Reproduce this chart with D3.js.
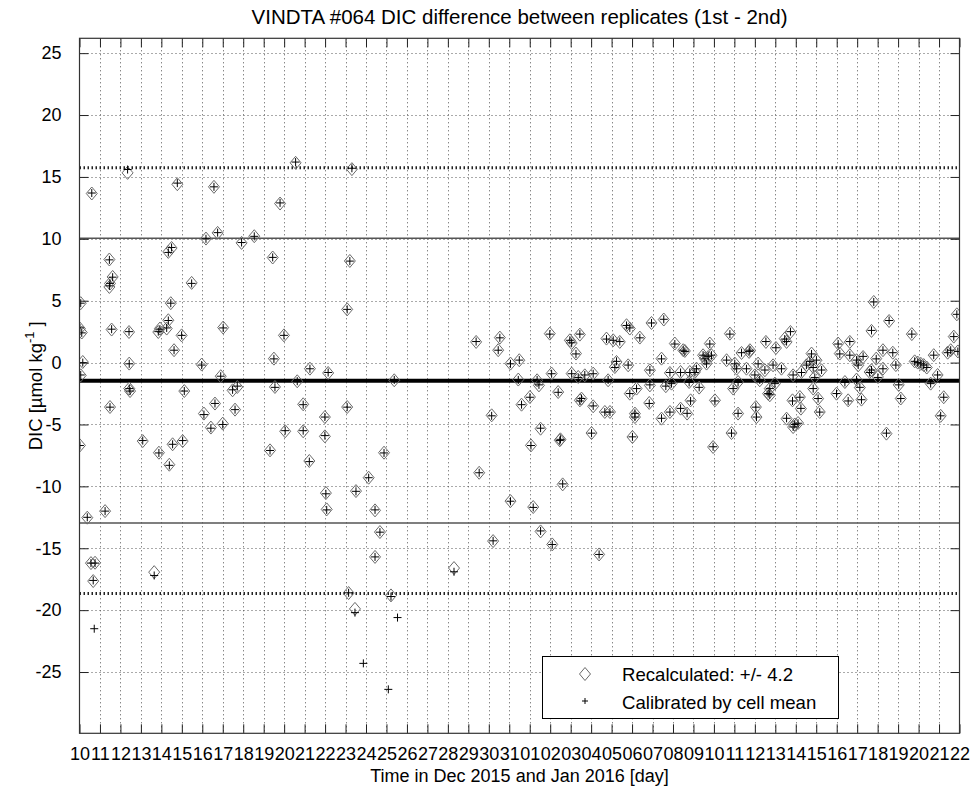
<!DOCTYPE html>
<html>
<head>
<meta charset="utf-8">
<script src="https://cdn.jsdelivr.net/npm/d3@7"></script>
<style>
  body { margin: 0; background: #fff; }
  text { font-family: "Liberation Sans", Arial, Helvetica, sans-serif; fill: #000; }
</style>
</head>
<body>
<svg id="chart" width="974" height="790"></svg>
<script>
// Day ticks: Dec 10 .. Jan 22, counted as days from 1 Dec (Jan 1 = 32)
const tickDays = d3.range(10, 54);
const tickLabels = ["10","11","12","13","14","15","16","17","18","19","20","21","22","23","24","25","26","27","28","29","30","31",
                    "01","02","03","04","05","06","07","08","09","10","11","12","13","14","15","16","17","18","19","20","21","22"];
const yTickValues = [-25, -20, -15, -10, -5, 0, 5, 10, 15, 20, 25];

// Sample time (days from 1 Dec 2015)
const sampleDay = [
  10.06,10.02,10.11,10.16,10.06,10.02,10.38,10.56,10.76,10.67,10.60,10.72,
  11.25,11.49,11.46,11.49,11.62,11.46,11.57,
  12.35,12.42,12.43,12.43,12.47,
  13.09,13.65,13.85,13.93,14.26,14.34,14.46,13.88,14.39,14.55,14.34,14.50,14.62,14.78,14.99,15.04,15.12,15.48,
  15.97,16.08,16.18,16.42,16.57,16.62,16.75,16.90,17.00,17.02,17.48,17.71,17.60,17.92,18.54,
  19.31,19.44,19.50,19.55,19.80,19.99,20.05,20.56,20.64,20.93,20.93,21.23,21.26,21.99,21.99,22.15,22.04,22.08,
  23.08,23.08,23.21,23.31,23.15,23.51,23.46,23.87,24.13,24.44,24.44,24.68,24.88,25.09,25.22,25.38,25.54,
  28.30,29.38,29.53,30.14,30.21,30.46,30.54,
  31.06,31.06,31.44,31.49,31.60,32.01,32.06,32.17,32.36,32.45,32.53,32.53,32.98,33.07,33.10,33.39,33.47,33.50,33.61,
  33.96,34.05,34.05,34.26,34.37,34.45,34.45,34.53,34.69,35.02,35.10,35.10,35.39,35.67,35.75,35.83,35.92,
  36.08,36.16,36.24,36.40,36.73,36.81,36.89,36.89,37.02,37.14,37.14,37.22,37.38,37.84,37.87,37.87,37.95,
  38.44,38.44,38.55,38.65,38.85,38.85,38.93,39.09,39.37,39.37,39.50,39.58,39.69,39.79,39.82,39.86,
  40.07,40.15,40.28,40.47,40.56,40.64,40.72,40.80,40.88,40.96,41.05,41.62,41.78,41.86,41.94,
  42.02,42.11,42.18,42.18,42.35,42.59,42.72,42.76,43.00,43.05,43.08,43.16,43.24,43.49,43.54,43.65,43.73,43.73,43.89,43.98,
  44.03,44.30,44.46,44.55,44.55,44.74,44.84,44.87,44.87,44.95,45.11,45.20,45.25,45.28,45.52,45.69,45.77,45.85,45.85,45.93,
  46.01,46.09,46.17,46.26,46.99,47.07,47.15,47.40,47.56,47.64,47.64,47.97,47.97,48.05,48.13,48.21,48.29,
  48.61,48.70,48.70,48.81,48.93,49.01,49.26,49.26,49.43,49.56,
  49.74,49.89,50.03,50.13,50.67,50.81,50.96,51.11,51.25,51.40,51.59,51.74,51.93,52.08,52.23,52.42,52.57,52.72,52.87,52.92
];

// Recalculated replicate difference (null: outside the plotted range)
const recalculated = [
  4.8,2.75,2.43,0.05,-1.03,-6.69,-12.53,-16.2,-16.17,-17.65,13.66,null,
  -12.0,-3.59,8.33,6.39,6.92,6.11,2.67,
  15.33,2.47,-0.08,-2.1,-2.3,
  -6.34,-16.93,2.47,2.75,2.75,3.42,4.8,-7.28,-8.25,-6.6,8.94,9.26,1.0,14.41,2.2,-6.34,-2.3,6.44,
  -0.16,-4.12,10.02,-5.25,14.2,-3.31,10.48,-1.1,-4.93,2.83,-2.24,-1.97,-3.8,9.67,10.21,
  -7.09,8.49,0.32,-1.97,12.85,2.2,-5.55,16.14,-1.51,-3.37,-5.55,-7.95,-0.49,-4.4,-5.96,-0.84,-10.54,-11.86,
  4.3,-3.59,8.21,15.63,-18.62,-10.38,-19.9,null,-9.3,-11.94,-15.7,-13.69,-7.28,null,-18.81,-1.43,null,
  -16.6,1.67,-8.9,-4.26,-14.42,1.0,2.02,
  -0.08,-11.19,-1.37,0.19,-3.4,-2.78,-6.69,-11.67,-1.43,-1.84,-5.34,-13.64,2.34,-0.89,-14.69,-2.38,-6.28,-6.2,-9.84,
  1.8,1.58,-0.89,0.73,-1.16,2.26,-3.05,-2.91,-1.03,-5.69,-0.89,-3.53,-15.5,-3.99,1.94,-1.43,-3.99,
  1.8,-0.36,0.05,1.67,3.02,-0.22,2.75,-2.51,-6.01,-4.12,-4.4,-2.1,2.02,-3.26,-0.62,-1.84,3.2,
  0.32,-4.53,3.48,-1.91,-0.84,-3.99,-1.7,1.54,-0.76,-3.72,1.0,0.94,-4.12,-1.57,-0.76,-3.05,
  -0.76,-0.49,-2.02,0.59,0.32,-0.08,0.45,1.54,0.59,-6.82,-3.05,0.19,2.34,-5.69,-2.1,
  -0.08,-0.49,-1.57,-4.12,0.78,-0.49,0.86,1.0,-1.03,-3.59,-4.4,-0.08,-1.43,-0.62,1.67,-2.51,-2.1,-2.64,-0.22,-1.7,
  1.18,-0.49,1.94,1.67,-4.53,2.47,-3.05,-1.03,-5.21,-5.0,-4.88,-2.78,-3.72,-0.76,-0.22,0.05,0.73,-0.36,-2.1,-1.16,
  0.19,-2.91,-3.99,-0.62,-2.51,1.54,0.73,-1.57,-3.05,1.67,0.59,0.19,-1.37,-0.22,-2.02,-2.99,0.45,
  -0.76,-0.62,2.56,4.9,0.32,-1.16,1.0,-0.49,-5.74,3.36,
  0.8,-0.2,-1.8,-2.9,2.3,0.1,0.0,-0.1,-0.2,-0.4,-1.7,0.6,-1.0,-4.3,-2.8,0.8,1.0,2.1,3.9,0.9
];

// Calibrated by cell mean
const calibrated = [
  4.8,2.8,2.4,0.0,-1.0,-6.7,-12.5,-16.2,-16.2,-17.6,13.7,-21.5,
  -12.0,-3.6,8.3,6.4,6.9,6.2,2.7,
  15.6,2.5,-0.1,-2.1,-2.3,
  -6.3,-17.2,2.5,2.7,2.8,3.4,4.8,-7.3,-8.3,-6.6,8.9,9.3,1.0,14.5,2.2,-6.3,-2.3,6.4,
  -0.2,-4.2,10.0,-5.3,14.2,-3.3,10.5,-1.1,-5.0,2.8,-2.2,-1.9,-3.8,9.7,10.2,
  -7.1,8.5,0.3,-2.0,12.9,2.2,-5.5,16.2,-1.5,-3.4,-5.5,-8.0,-0.5,-4.4,-5.9,-0.8,-10.6,-11.9,
  4.3,-3.6,8.2,15.7,-18.6,-10.4,-20.2,-24.3,-9.3,-11.9,-15.7,-13.7,-7.3,-26.4,-18.9,-1.4,-20.6,
  -16.9,1.7,-8.9,-4.3,-14.4,1.0,2.0,
  -0.1,-11.2,-1.4,0.2,-3.4,-2.8,-6.7,-11.7,-1.4,-1.8,-5.3,-13.6,2.3,-0.9,-14.7,-2.4,-6.3,-6.2,-9.8,
  1.8,1.6,-0.9,0.7,-1.2,2.3,-3.1,-2.9,-1.0,-5.7,-0.9,-3.5,-15.5,-4.0,1.9,-1.4,-4.0,
  1.8,-0.4,0.1,1.7,3.0,-0.2,2.8,-2.5,-6.0,-4.1,-4.4,-2.1,2.0,-3.3,-0.6,-1.8,3.2,
  0.3,-4.5,3.5,-1.9,-0.8,-4.0,-1.7,1.5,-0.8,-3.7,1.0,0.9,-4.1,-1.6,-0.8,-3.1,
  -0.8,-0.5,-2.0,0.6,0.3,-0.1,0.5,1.5,0.6,-6.8,-3.1,0.2,2.3,-5.7,-2.1,
  -0.1,-0.5,-1.6,-4.1,0.8,-0.5,0.9,1.0,-1.0,-3.6,-4.4,-0.1,-1.4,-0.6,1.7,-2.5,-2.1,-2.6,-0.2,-1.7,
  1.2,-0.5,1.9,1.7,-4.5,2.5,-3.1,-1.0,-5.2,-5.0,-4.9,-2.8,-3.7,-0.8,-0.2,0.1,0.7,-0.4,-2.1,-1.2,
  0.2,-2.9,-4.0,-0.6,-2.5,1.5,0.7,-1.6,-3.1,1.7,0.6,0.2,-1.4,-0.2,-2.0,-3.0,0.5,
  -0.8,-0.6,2.6,4.9,0.3,-1.2,1.0,-0.5,-5.7,3.4,
  0.8,-0.2,-1.8,-2.9,2.3,0.1,0.0,-0.1,-0.2,-0.4,-1.7,0.6,-1.0,-4.3,-2.8,0.8,1.0,2.1,3.9,0.9
];

// Reference levels
const meanLevel = -1.46;
const solidLevels = [10.04, -12.96];
const dottedLevels = [15.74, -18.66];
const legendEntries = ["Recalculated: +/- 4.2", "Calibrated by cell mean"];

const svg = d3.select("#chart");
const plot = { left: 79.5, right: 959.5, top: 38.3, bottom: 733.3 };

const x = d3.scaleLinear().domain([10, 53]).range([plot.left, plot.right]);
const y = d3.scaleLinear().domain([-29.95, 26.2]).range([plot.bottom, plot.top]);

svg.append("rect").attr("x", 0).attr("y", 0).attr("width", 974).attr("height", 790).attr("fill", "#fff");

// dotted grid
const grid = svg.append("g").attr("class", "grid");
grid.selectAll("line.v").data(tickDays.slice(1, -1)).join("line")
  .attr("x1", d => Math.round(x(d)) + 0.5).attr("x2", d => Math.round(x(d)) + 0.5)
  .attr("y1", plot.top).attr("y2", plot.bottom)
  .attr("stroke", "#555").attr("stroke-width", 1).attr("stroke-dasharray", "1,3");
grid.selectAll("line.h").data(yTickValues).join("line")
  .attr("y1", d => Math.round(y(d)) + 0.5).attr("y2", d => Math.round(y(d)) + 0.5)
  .attr("x1", plot.left).attr("x2", plot.right)
  .attr("stroke", "#555").attr("stroke-width", 1).attr("stroke-dasharray", "1,3");

svg.append("clipPath").attr("id", "plotclip").append("rect")
  .attr("x", plot.left).attr("y", plot.top)
  .attr("width", plot.right - plot.left).attr("height", plot.bottom - plot.top);

const layer = svg.append("g").attr("clip-path", "url(#plotclip)");

// reference lines
layer.selectAll("line.solid").data(solidLevels).join("line")
  .attr("x1", plot.left).attr("x2", plot.right)
  .attr("y1", d => y(d)).attr("y2", d => y(d))
  .attr("stroke", "#555").attr("stroke-width", 1.5);
layer.selectAll("line.dotted").data(dottedLevels).join("line")
  .attr("x1", plot.left).attr("x2", plot.right)
  .attr("y1", d => y(d)).attr("y2", d => y(d))
  .attr("stroke", "#222").attr("stroke-width", 3).attr("stroke-dasharray", "1.5,2.5");
layer.append("line")
  .attr("x1", plot.left).attr("x2", plot.right)
  .attr("y1", y(meanLevel)).attr("y2", y(meanLevel))
  .attr("stroke", "#000").attr("stroke-width", 4);

const diamond = (cx, cy) => `M${cx},${cy - 6.5}L${cx + 5.5},${cy}L${cx},${cy + 6.5}L${cx - 5.5},${cy}Z`;
const plus = (cx, cy) => `M${cx - 4},${cy}H${cx + 4}M${cx},${cy - 4}V${cy + 4}`;

const idx = d3.range(sampleDay.length);
layer.selectAll("path.rec").data(idx.filter(i => recalculated[i] !== null)).join("path")
  .attr("d", i => diamond(x(sampleDay[i]), y(recalculated[i])))
  .attr("fill", "none").attr("stroke", "#6a6a6a").attr("stroke-width", 1);
layer.selectAll("path.cal").data(idx.filter(i => calibrated[i] !== null)).join("path")
  .attr("d", i => plus(x(sampleDay[i]), y(calibrated[i])))
  .attr("fill", "none").attr("stroke", "#000").attr("stroke-width", 1);

// axes with inward ticks on all four sides
const fontSize = "18px";
const xb = svg.append("g").attr("transform", `translate(0,${plot.bottom})`)
  .call(d3.axisBottom(x).tickValues(tickDays).tickFormat((d, i) => tickLabels[i]).tickSizeInner(-9).tickSizeOuter(0).tickPadding(14));
const xt = svg.append("g").attr("transform", `translate(0,${plot.top})`)
  .call(d3.axisTop(x).tickValues(tickDays).tickFormat("").tickSizeInner(-9).tickSizeOuter(0));
const yl = svg.append("g").attr("transform", `translate(${plot.left},0)`)
  .call(d3.axisLeft(y).tickValues(yTickValues).tickFormat(d => String(d)).tickSizeInner(-9).tickSizeOuter(0).tickPadding(18));
const yr = svg.append("g").attr("transform", `translate(${plot.right},0)`)
  .call(d3.axisRight(y).tickValues(yTickValues).tickFormat("").tickSizeInner(-9).tickSizeOuter(0));

[xb, xt, yl, yr].forEach(g => {
  g.select(".domain").remove();
  g.selectAll(".tick line").attr("stroke", "#222");
  g.selectAll("text").style("font-size", fontSize).attr("fill", "#000")
    .style("font-family", '"Liberation Sans", Arial, Helvetica, sans-serif');
});
xb.selectAll("text").attr("dy", "0.71em");

svg.append("rect").attr("x", plot.left).attr("y", plot.top)
  .attr("width", plot.right - plot.left).attr("height", plot.bottom - plot.top)
  .attr("fill", "none").attr("stroke", "#333").attr("stroke-width", 1.2);

// legend
const lg = svg.append("g");
lg.append("rect").attr("x", 542.5).attr("y", 656.5).attr("width", 296).attr("height", 62)
  .attr("fill", "#fff").attr("stroke", "#000").attr("stroke-width", 1);
lg.append("path").attr("d", diamond(585, 674)).attr("fill", "none").attr("stroke", "#6a6a6a");
lg.append("path").attr("d", `M582,701H588M585,698V704`).attr("fill", "none").attr("stroke", "#000");
lg.selectAll("text").data(legendEntries).join("text")
  .attr("x", 622).attr("y", (d, i) => 681 + i * 28)
  .style("font-size", "18.6px").text(d => d);

// titles
svg.append("text").attr("x", (plot.left + plot.right) / 2).attr("y", 24)
  .attr("text-anchor", "middle").style("font-size", "20.5px")
  .text("VINDTA #064 DIC difference between replicates (1st - 2nd)");
svg.append("text").attr("x", (plot.left + plot.right) / 2).attr("y", 782)
  .attr("text-anchor", "middle").style("font-size", fontSize)
  .text("Time in Dec 2015 and Jan 2016 [day]");
const yt = svg.append("text").attr("transform", `translate(42,${(plot.top + plot.bottom) / 2}) rotate(-90)`)
  .attr("text-anchor", "middle").style("font-size", "18.5px");
yt.append("tspan").text("DIC [µmol kg");
yt.append("tspan").attr("dy", -8).style("font-size", "13px").text("-1");
yt.append("tspan").attr("dy", 8).text(" ]");
</script>
</body>
</html>
